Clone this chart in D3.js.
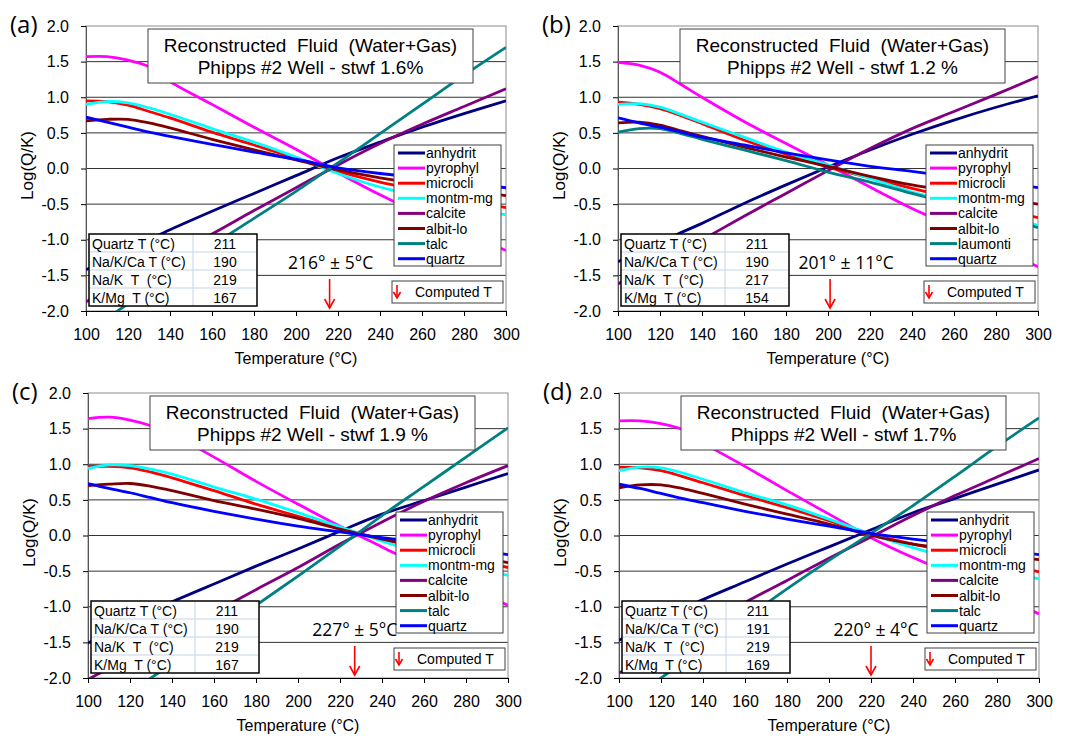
<!DOCTYPE html>
<html>
<head>
<meta charset="utf-8">
<script src="https://cdn.jsdelivr.net/npm/d3@7"></script>
<style>
  body { margin: 0; background: #fff; }
  svg text { font-family: "Liberation Sans", Arial, sans-serif; fill: #000; }
  .pre { white-space: pre; }
</style>
</head>
<body>
<svg id="chart" width="1074" height="736"></svg>
<script>
var temps = [100, 110, 120, 130, 140, 160, 180, 200, 220, 240, 260, 280, 300];

var mineralNames = ["anhydrit", "pyrophyl", "microcli", "montm-mg", "calcite", "albit-lo", "talc", "quartz"];
var mineralNamesB = ["anhydrit", "pyrophyl", "microcli", "montm-mg", "calcite", "albit-lo", "laumonti", "quartz"];
var mineralColors = ["#000080", "#ff00ff", "#ff0000", "#00ffff", "#800080", "#800000", "#008080", "#0000ff"];

// (a) stwf 1.6%
var anhydritA = [-1.42, -1.28, -1.14, -1.00, -0.86, -0.60, -0.35, -0.10, 0.15, 0.37, 0.58, 0.77, 0.95];
var pyrophylA = [1.57, 1.57, 1.52, 1.43, 1.22, 0.90, 0.58, 0.27, -0.06, -0.37, -0.65, -0.90, -1.15];
var microcliA = [0.95, 0.94, 0.89, 0.80, 0.71, 0.51, 0.33, 0.14, -0.04, -0.19, -0.31, -0.43, -0.55];
var montmA    = [0.90, 0.94, 0.92, 0.85, 0.76, 0.56, 0.37, 0.16, -0.07, -0.26, -0.40, -0.53, -0.65];
var calciteA  = [-1.87, -1.71, -1.55, -1.39, -1.23, -0.92, -0.59, -0.27, 0.05, 0.35, 0.62, 0.87, 1.12];
var albitA    = [0.67, 0.69, 0.69, 0.64, 0.57, 0.41, 0.26, 0.12, -0.02, -0.13, -0.22, -0.30, -0.38];
var talcA     = [-2.30, -2.10, -1.90, -1.70, -1.50, -1.08, -0.70, -0.32, 0.08, 0.49, 0.90, 1.31, 1.70];
var quartzA   = [0.72, 0.65, 0.58, 0.51, 0.45, 0.34, 0.23, 0.13, 0.01, -0.07, -0.13, -0.20, -0.27];

// (b) stwf 1.2 %
var anhydritB = [-1.31, -1.17, -1.04, -0.90, -0.77, -0.49, -0.23, 0.02, 0.26, 0.48, 0.68, 0.86, 1.02];
var pyrophylB = [1.49, 1.45, 1.35, 1.18, 1.00, 0.66, 0.35, 0.05, -0.26, -0.56, -0.82, -1.10, -1.38];
var microcliB = [0.93, 0.90, 0.84, 0.74, 0.63, 0.40, 0.20, 0.02, -0.13, -0.28, -0.42, -0.55, -0.69];
var montmB    = [0.90, 0.91, 0.86, 0.76, 0.65, 0.44, 0.23, 0.05, -0.14, -0.33, -0.48, -0.64, -0.80];
var calciteB  = [-1.62, -1.46, -1.31, -1.15, -1.00, -0.67, -0.35, -0.03, 0.28, 0.56, 0.80, 1.04, 1.29];
var albitB    = [0.64, 0.65, 0.61, 0.53, 0.45, 0.30, 0.16, 0.03, -0.11, -0.23, -0.32, -0.41, -0.50];
var laumontiB = [0.51, 0.56, 0.56, 0.49, 0.41, 0.26, 0.11, -0.05, -0.19, -0.35, -0.50, -0.66, -0.83];
var quartzB   = [0.71, 0.64, 0.58, 0.51, 0.44, 0.33, 0.22, 0.12, 0.03, -0.04, -0.12, -0.19, -0.27];

// (c) stwf 1.9 %
var anhydritC = [-1.51, -1.36, -1.21, -1.06, -0.93, -0.68, -0.43, -0.19, 0.06, 0.30, 0.49, 0.68, 0.87];
var pyrophylC = [1.64, 1.66, 1.62, 1.54, 1.42, 1.10, 0.76, 0.44, 0.13, -0.16, -0.45, -0.72, -0.98];
var microcliC = [0.97, 0.97, 0.95, 0.89, 0.81, 0.63, 0.44, 0.27, 0.10, -0.05, -0.18, -0.31, -0.45];
var montmC    = [0.94, 0.99, 0.98, 0.93, 0.86, 0.68, 0.51, 0.32, 0.12, -0.08, -0.26, -0.41, -0.56];
var calciteC  = [-2.02, -1.86, -1.70, -1.54, -1.39, -1.08, -0.76, -0.45, -0.12, 0.19, 0.48, 0.74, 0.98];
var albitC    = [0.70, 0.72, 0.73, 0.69, 0.63, 0.49, 0.37, 0.24, 0.09, -0.05, -0.16, -0.27, -0.38];
var talcC     = [-2.60, -2.40, -2.20, -2.00, -1.80, -1.40, -0.98, -0.57, -0.15, 0.28, 0.69, 1.10, 1.51];
var quartzC   = [0.73, 0.66, 0.60, 0.53, 0.46, 0.34, 0.23, 0.13, 0.05, -0.03, -0.10, -0.18, -0.27];

// (d) stwf 1.7%
var anhydritD = [-1.47, -1.32, -1.18, -1.04, -0.90, -0.65, -0.40, -0.16, 0.08, 0.32, 0.52, 0.72, 0.92];
var pyrophylD = [1.61, 1.61, 1.57, 1.49, 1.30, 0.97, 0.63, 0.30, -0.03, -0.31, -0.56, -0.83, -1.10];
var microcliD = [0.96, 0.95, 0.91, 0.83, 0.74, 0.56, 0.39, 0.21, 0.02, -0.12, -0.24, -0.37, -0.51];
var montmD    = [0.91, 0.96, 0.95, 0.88, 0.79, 0.60, 0.43, 0.23, 0.02, -0.17, -0.33, -0.47, -0.61];
var calciteD  = [-1.93, -1.77, -1.60, -1.43, -1.27, -0.94, -0.63, -0.32, -0.02, 0.28, 0.56, 0.82, 1.08];
var albitD    = [0.67, 0.71, 0.71, 0.66, 0.59, 0.44, 0.30, 0.16, 0.00, -0.12, -0.19, -0.27, -0.34];
var talcD     = [-2.42, -2.21, -2.00, -1.79, -1.58, -1.17, -0.75, -0.35, 0.03, 0.42, 0.83, 1.25, 1.65];
var quartzD   = [0.72, 0.66, 0.59, 0.52, 0.46, 0.34, 0.23, 0.13, 0.03, -0.05, -0.12, -0.19, -0.27];

// geothermometer table and computed temperature per panel
var geoLabels = ["Quartz T (°C)", "Na/K/Ca T (°C)", "Na/K  T  (°C)", "K/Mg  T (°C)"];
var quartzT = [211, 211, 211, 211];
var naKCaT  = [190, 190, 190, 191];
var naKT    = [219, 217, 219, 219];
var kMgT    = [167, 154, 167, 169];
var computedT   = [216, 201, 227, 220];
var computedErr = [5, 11, 5, 4];

var panelTags = ["(a)", "(b)", "(c)", "(d)"];
var stwfLabels = ["1.6%", "1.2 %", "1.9 %", "1.7%"];
var yTicks = [-2, -1.5, -1, -0.5, 0, 0.5, 1, 1.5, 2];
var xTicks = [100, 120, 140, 160, 180, 200, 220, 240, 260, 280, 300];

var panels = [
    { names: mineralNames,  series: [anhydritA, pyrophylA, microcliA, montmA, calciteA, albitA, talcA, quartzA] },
    { names: mineralNamesB, series: [anhydritB, pyrophylB, microcliB, montmB, calciteB, albitB, laumontiB, quartzB] },
    { names: mineralNames,  series: [anhydritC, pyrophylC, microcliC, montmC, calciteC, albitC, talcC, quartzC] },
    { names: mineralNames,  series: [anhydritD, pyrophylD, microcliD, montmD, calciteD, albitD, talcD, quartzD] }
];

// plot-area origins on the page, and where the T label sits relative to its arrow
var origins = [[86, 26], [618, 26], [88, 393], [619, 393]];
var labelShift = [1, 16, 0, 5];
var W = 420, H = 285;

var svg = d3.select("#chart");

panels.forEach(function(p, i) {
    drawPanel(svg.append("g").attr("transform", "translate(" + origins[i][0] + "," + origins[i][1] + ")"), p, i);
});

function drawPanel(g, p, i) {
    var x = d3.scaleLinear().domain([100, 300]).range([0, W]);
    var y = d3.scaleLinear().domain([-2, 2]).range([H, 0]);

    // gridlines
    g.selectAll("line.grid")
        .data(yTicks.filter(function(v) { return v > -2 && v < 2; }))
        .enter().append("line")
        .attr("x1", 0).attr("x2", W)
        .attr("y1", function(d) { return y(d); }).attr("y2", function(d) { return y(d); })
        .attr("stroke", "#333").attr("stroke-width", 1);

    g.append("rect").attr("width", W).attr("height", H)
        .attr("fill", "none").attr("stroke", "#8c8c8c");

    // axes
    var ya = g.append("g").call(d3.axisLeft(y).tickValues(yTicks).tickSize(5).tickPadding(12)
        .tickFormat(function(d) { return d.toFixed(1); }));
    var xa = g.append("g").attr("transform", "translate(0," + H + ")")
        .call(d3.axisBottom(x).tickValues(xTicks).tickSize(5).tickPadding(13));
    [ya, xa].forEach(function(a) {
        a.selectAll("text").attr("font-size", 16).attr("font-family", "Liberation Sans, Arial, sans-serif");
    });
    ya.select(".domain").attr("stroke", "#555");
    xa.select(".domain").attr("stroke", "#000");

    g.append("text").attr("x", W / 2).attr("y", H + 53).attr("text-anchor", "middle")
        .attr("font-size", 16).text("Temperature (°C)");
    g.append("text").attr("transform", "translate(-53," + (H / 2 - 3) + ") rotate(-90)")
        .attr("text-anchor", "middle").attr("font-size", 17).text("Log(Q/K)");

    g.append("text").attr("x", -76).attr("y", 7).attr("font-size", 24)
        .style("font-family", "'Open Sans', sans-serif").text(panelTags[i]);

    // data lines
    var clipId = "clip" + i;
    g.append("clipPath").attr("id", clipId).append("rect").attr("width", W).attr("height", H);
    var line = d3.line().curve(d3.curveCatmullRom.alpha(0.5))
        .x(function(d, k) { return x(temps[k]); })
        .y(function(d) { return y(d); });
    g.append("g").attr("clip-path", "url(#" + clipId + ")")
        .selectAll("path").data(p.series).enter().append("path")
        .attr("d", line)
        .attr("fill", "none")
        .attr("stroke", function(d, k) { return mineralColors[k]; })
        .attr("stroke-width", 2.8);

    // title box
    g.append("rect").attr("x", 62).attr("y", 3).attr("width", 325).attr("height", 54)
        .attr("fill", "#fff").attr("stroke", "#404040");
    g.append("text").attr("class", "pre").attr("x", 224.5).attr("y", 26).attr("text-anchor", "middle")
        .attr("font-size", 19).text("Reconstructed  Fluid  (Water+Gas)");
    g.append("text").attr("class", "pre").attr("x", 224.5).attr("y", 48).attr("text-anchor", "middle")
        .attr("font-size", 19).text("Phipps #2 Well - stwf " + stwfLabels[i]);

    // legend
    var lg = g.append("g").attr("transform", "translate(308,119)");
    lg.append("rect").attr("width", 107).attr("height", 121).attr("fill", "#fff").attr("stroke", "#404040");
    var item = lg.selectAll("g.item").data(p.names).enter().append("g")
        .attr("transform", function(d, k) { return "translate(0," + (8 + k * 15.1) + ")"; });
    item.append("line").attr("x1", 4).attr("x2", 31)
        .attr("stroke", function(d, k) { return mineralColors[k]; }).attr("stroke-width", 3);
    item.append("text").attr("x", 32).attr("y", 5).attr("font-size", 14).text(function(d) { return d; });

    // computed T key
    var ck = g.append("g").attr("transform", "translate(306,255)");
    ck.append("rect").attr("width", 111).attr("height", 22).attr("fill", "#fff").attr("stroke", "#404040");
    drawArrow(ck, 5, 4, 17, 3.5, 6);
    ck.append("text").attr("x", 23).attr("y", 16).attr("font-size", 14).text("Computed T");

    // geothermometer table
    var rows = [quartzT[i], naKCaT[i], naKT[i], kMgT[i]];
    var tb = g.append("g").attr("transform", "translate(3,208)");
    tb.append("rect").attr("width", 168).attr("height", 72).attr("fill", "#fff");
    tb.selectAll("line.row").data([1, 2, 3]).enter().append("line")
        .attr("x1", 0).attr("x2", 168)
        .attr("y1", function(d) { return d * 18; }).attr("y2", function(d) { return d * 18; })
        .attr("stroke", "#c5d3e8");
    tb.append("line").attr("x1", 104).attr("x2", 104).attr("y1", 0).attr("y2", 72).attr("stroke", "#c5d3e8");
    tb.append("rect").attr("width", 168).attr("height", 72).attr("fill", "none")
        .attr("stroke", "#000").attr("stroke-width", 1.5);
    tb.selectAll("text.lab").data(geoLabels).enter().append("text").attr("class", "pre")
        .attr("x", 3).attr("y", function(d, k) { return k * 18 + 15; })
        .attr("font-size", 14).text(function(d) { return d; });
    tb.selectAll("text.val").data(rows).enter().append("text")
        .attr("x", 136).attr("y", function(d, k) { return k * 18 + 15; })
        .attr("text-anchor", "middle").attr("font-size", 14).text(function(d) { return d; });

    // computed temperature
    var tx = x(computedT[i]);
    g.append("text").attr("x", tx + labelShift[i]).attr("y", 243).attr("text-anchor", "middle")
        .attr("font-size", 17.5).style("font-family", "'Open Sans', sans-serif")
        .text(computedT[i] + "° ± " + computedErr[i] + "°C");
    drawArrow(g, tx, 253, 282, 5, 9);
}

function drawArrow(g, ax, y0, y1, hw, hh) {
    var a = g.append("g").attr("stroke", "#ff0000").attr("stroke-width", 1.6).attr("fill", "none");
    a.append("line").attr("x1", ax).attr("x2", ax).attr("y1", y0).attr("y2", y1);
    a.append("path").attr("d", "M" + (ax - hw) + "," + (y1 - hh) + "L" + ax + "," + y1 + "L" + (ax + hw) + "," + (y1 - hh));
}
</script>
</body>
</html>
